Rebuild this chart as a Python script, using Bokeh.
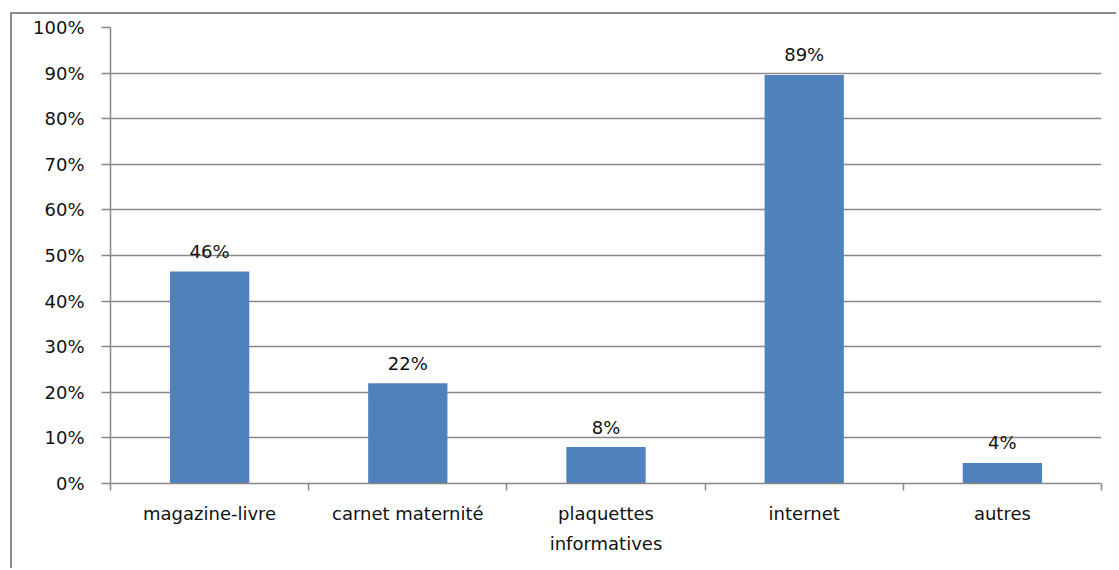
from bokeh.plotting import figure
from bokeh.models import FixedTicker, LinearAxis, NumeralTickFormatter, Range1d, ColumnDataSource
from bokeh.embed import file_html
from bokeh.resources import INLINE
from bokeh.core.properties import value

categories = ["magazine-livre", "carnet maternité", "plaquettes\ninformatives", "internet", "autres"]
values = [0.465, 0.22, 0.08, 0.896, 0.045]
labels = ["46%", "22%", "8%", "89%", "4%"]
y_ticks = [0, 0.1, 0.2, 0.3, 0.4, 0.5, 0.6, 0.7, 0.8, 0.9, 1.0]

FONT = "DejaVu Sans"
GRAY = "#888888"
TXT = "#111111"

xs = [i + 0.5 for i in range(len(categories))]
src = ColumnDataSource(dict(x=xs, top=values, label=labels))

p = figure(width=1106, height=556, output_backend="svg", toolbar_location=None,
           x_range=Range1d(0, len(categories)), y_range=Range1d(0, 1),
           min_border_left=98, min_border_right=17, min_border_top=13, min_border_bottom=87,
           x_axis_location=None)
p.styles = {"border-left": "2px solid #8a8a8a", "border-top": "2px solid #8a8a8a",
            "margin-left": "10px", "margin-top": "12px"}
p.outline_line_color = None
p.background_fill_color = "white"
p.border_fill_color = "white"

p.vbar(x="x", top="top", width=0.4, bottom=0, source=src, color="#4F81BD", line_color=None)
p.text(x="x", y="top", text="label", source=src, text_align="center", text_baseline="alphabetic",
       y_offset=-20, text_font=value(FONT), text_font_size="18px", text_color=TXT)

# y axis
ya = p.yaxis[0]
ya.ticker = FixedTicker(ticks=y_ticks)
ya.formatter = NumeralTickFormatter(format="0%")
ya.axis_line_color = GRAY
ya.axis_line_width = 1.5
ya.major_tick_line_color = GRAY
ya.major_tick_line_width = 1.5
ya.major_tick_out = 9
ya.major_tick_in = 0
ya.minor_tick_line_color = None
ya.major_label_standoff = 17
ya.major_label_text_font = FONT
ya.major_label_text_font_size = "18px"
ya.major_label_text_color = TXT

p.ygrid.ticker = FixedTicker(ticks=y_ticks)
p.ygrid.grid_line_color = GRAY
p.ygrid.grid_line_width = 1.5
p.xgrid.grid_line_color = None

# x axis: boundary ticks
xa1 = LinearAxis(ticker=FixedTicker(ticks=list(range(len(categories) + 1))))
xa1.major_label_overrides = {i: "" for i in range(len(categories) + 1)}
xa1.major_label_text_font_size = "1px"
xa1.axis_line_color = GRAY
xa1.axis_line_width = 1.5
xa1.major_tick_line_color = GRAY
xa1.major_tick_line_width = 1.5
xa1.major_tick_out = 7
xa1.major_tick_in = 0
xa1.minor_tick_line_color = None
xa1.major_label_standoff = 0
p.add_layout(xa1, "below")

# x axis: category labels at centers
xa2 = LinearAxis(ticker=FixedTicker(ticks=xs))
xa2.major_label_overrides = {x: c for x, c in zip(xs, categories)}
xa2.axis_line_color = None
xa2.major_tick_line_color = None
xa2.minor_tick_line_color = None
xa2.major_label_standoff = 6
xa2.major_label_text_font = FONT
xa2.major_label_text_font_size = "18px"
xa2.major_label_text_color = TXT
xa2.major_label_text_line_height = 1.45
p.add_layout(xa2, "below")

open("out.html", "w").write(file_html(p, INLINE))
